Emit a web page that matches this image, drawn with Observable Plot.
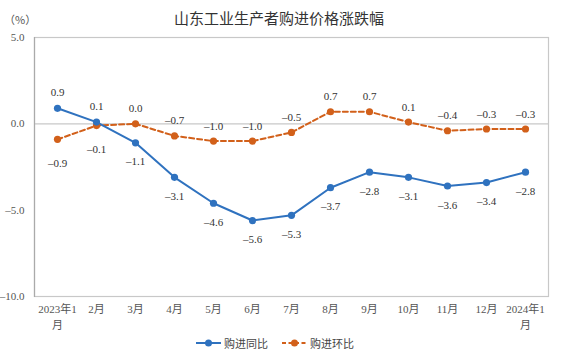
<!DOCTYPE html>
<html>
<head>
<meta charset="utf-8">
<script src="https://cdn.jsdelivr.net/npm/d3@7"></script>
<script src="https://cdn.jsdelivr.net/npm/@observablehq/plot@0.6"></script>
<style>
  html, body { margin: 0; padding: 0; background: #fff; }
  #wrap { position: relative; width: 579px; height: 358px; font-family: "Liberation Serif", "Noto Sans CJK SC", serif; }
  #title { position: absolute; left: 0; width: 558px; top: 7px; text-align: center; font-size: 15px; color: #333; }
  #unit { position: absolute; left: 4px; top: 11px; font-size: 11px; color: #555; font-family: "Noto Sans CJK SC", sans-serif; }
  #legend { position: absolute; top: 335px; left: 196px; display: flex; align-items: center; font-size: 11px; color: #444; }
  #legend .item { display: flex; align-items: center; margin-right: 14px; }
  #legend svg { margin-right: 3px; }
  #chart svg text { font-family: "Liberation Serif", "Noto Sans CJK SC", serif; }
</style>
</head>
<body>
<div id="wrap">
  <div id="chart"></div>
  <div id="title">山东工业生产者购进价格涨跌幅</div>
  <div id="unit">（%）</div>
  <div id="legend"></div>
</div>
<script>
const months = ["2023年1\n月", "2月", "3月", "4月", "5月", "6月", "7月", "8月", "9月", "10月", "11月", "12月", "2024年1\n月"];
const yoy = [0.9, 0.1, -1.1, -3.1, -4.6, -5.6, -5.3, -3.7, -2.8, -3.1, -3.6, -3.4, -2.8];
const mom = [-0.9, -0.1, 0.0, -0.7, -1.0, -1.0, -0.5, 0.7, 0.7, 0.1, -0.4, -0.3, -0.3];
const yTicks = [5, 0, -5, -10];
const seriesNames = ["购进同比", "购进环比"];
const colors = ["#2f72bf", "#d2601a"];

const yoyData = months.map((m, i) => ({month: m, value: yoy[i], above: i < 2}));
const momData = months.map((m, i) => ({month: m, value: mom[i], above: i >= 2}));
const fmt = v => (v < 0 ? "\u2013" : "") + Math.abs(v).toFixed(1);

const chart = Plot.plot({
  width: 579,
  height: 358,
  marginTop: 37,
  marginBottom: 62,
  marginLeft: 34,
  marginRight: 31,
  style: {fontFamily: "Liberation Serif, Noto Sans CJK SC, serif", fontSize: "11px", color: "#555"},
  x: {type: "point", domain: months, padding: 0.5, label: null},
  y: {domain: [-10, 5], label: null},
  marks: [
    Plot.ruleY([0], {stroke: "#c8c8c8", strokeWidth: 1.2}),
    Plot.frame({stroke: "#c8c8c8", strokeWidth: 1.2}),
    Plot.frame({anchor: "left", stroke: "#aaa", strokeWidth: 1.2}),
    Plot.axisY({ticks: yTicks, tickFormat: fmt, tickSize: 0, tickPadding: 10, fill: "#555"}),
    Plot.axisX({tickSize: 0, tickPadding: 5, fill: "#555", lineHeight: 1.45}),
    Plot.line(momData, {x: "month", y: "value", stroke: colors[1], strokeWidth: 2, strokeDasharray: "5,3"}),
    Plot.line(yoyData, {x: "month", y: "value", stroke: colors[0], strokeWidth: 2}),
    Plot.dot(momData, {x: "month", y: "value", fill: colors[1], r: 3.6}),
    Plot.dot(yoyData, {x: "month", y: "value", fill: colors[0], r: 3.6}),
    Plot.text(yoyData.filter(d => d.above), {x: "month", y: "value", text: d => fmt(d.value), dy: -16, fill: "#333"}),
    Plot.text(yoyData.filter(d => !d.above), {x: "month", y: "value", text: d => fmt(d.value), dy: 19, fill: "#333"}),
    Plot.text(momData.filter(d => d.above), {x: "month", y: "value", text: d => fmt(d.value), dy: -15, fill: "#333"}),
    Plot.text(momData.filter(d => !d.above), {x: "month", y: "value", text: d => fmt(d.value), dy: 24, fill: "#333"})
  ]
});
document.getElementById("chart").appendChild(chart);

const legend = document.getElementById("legend");
seriesNames.forEach((name, i) => {
  const item = document.createElement("div");
  item.className = "item";
  const dash = i === 1 ? ' stroke-dasharray="4,2.5"' : "";
  item.innerHTML = `<svg width="25" height="10"><line x1="0" y1="5" x2="25" y2="5" stroke="${colors[i]}" stroke-width="2"${dash}/><circle cx="12.5" cy="5" r="3.5" fill="${colors[i]}"/></svg><span>${name}</span>`;
  legend.appendChild(item);
});
</script>
</body>
</html>
